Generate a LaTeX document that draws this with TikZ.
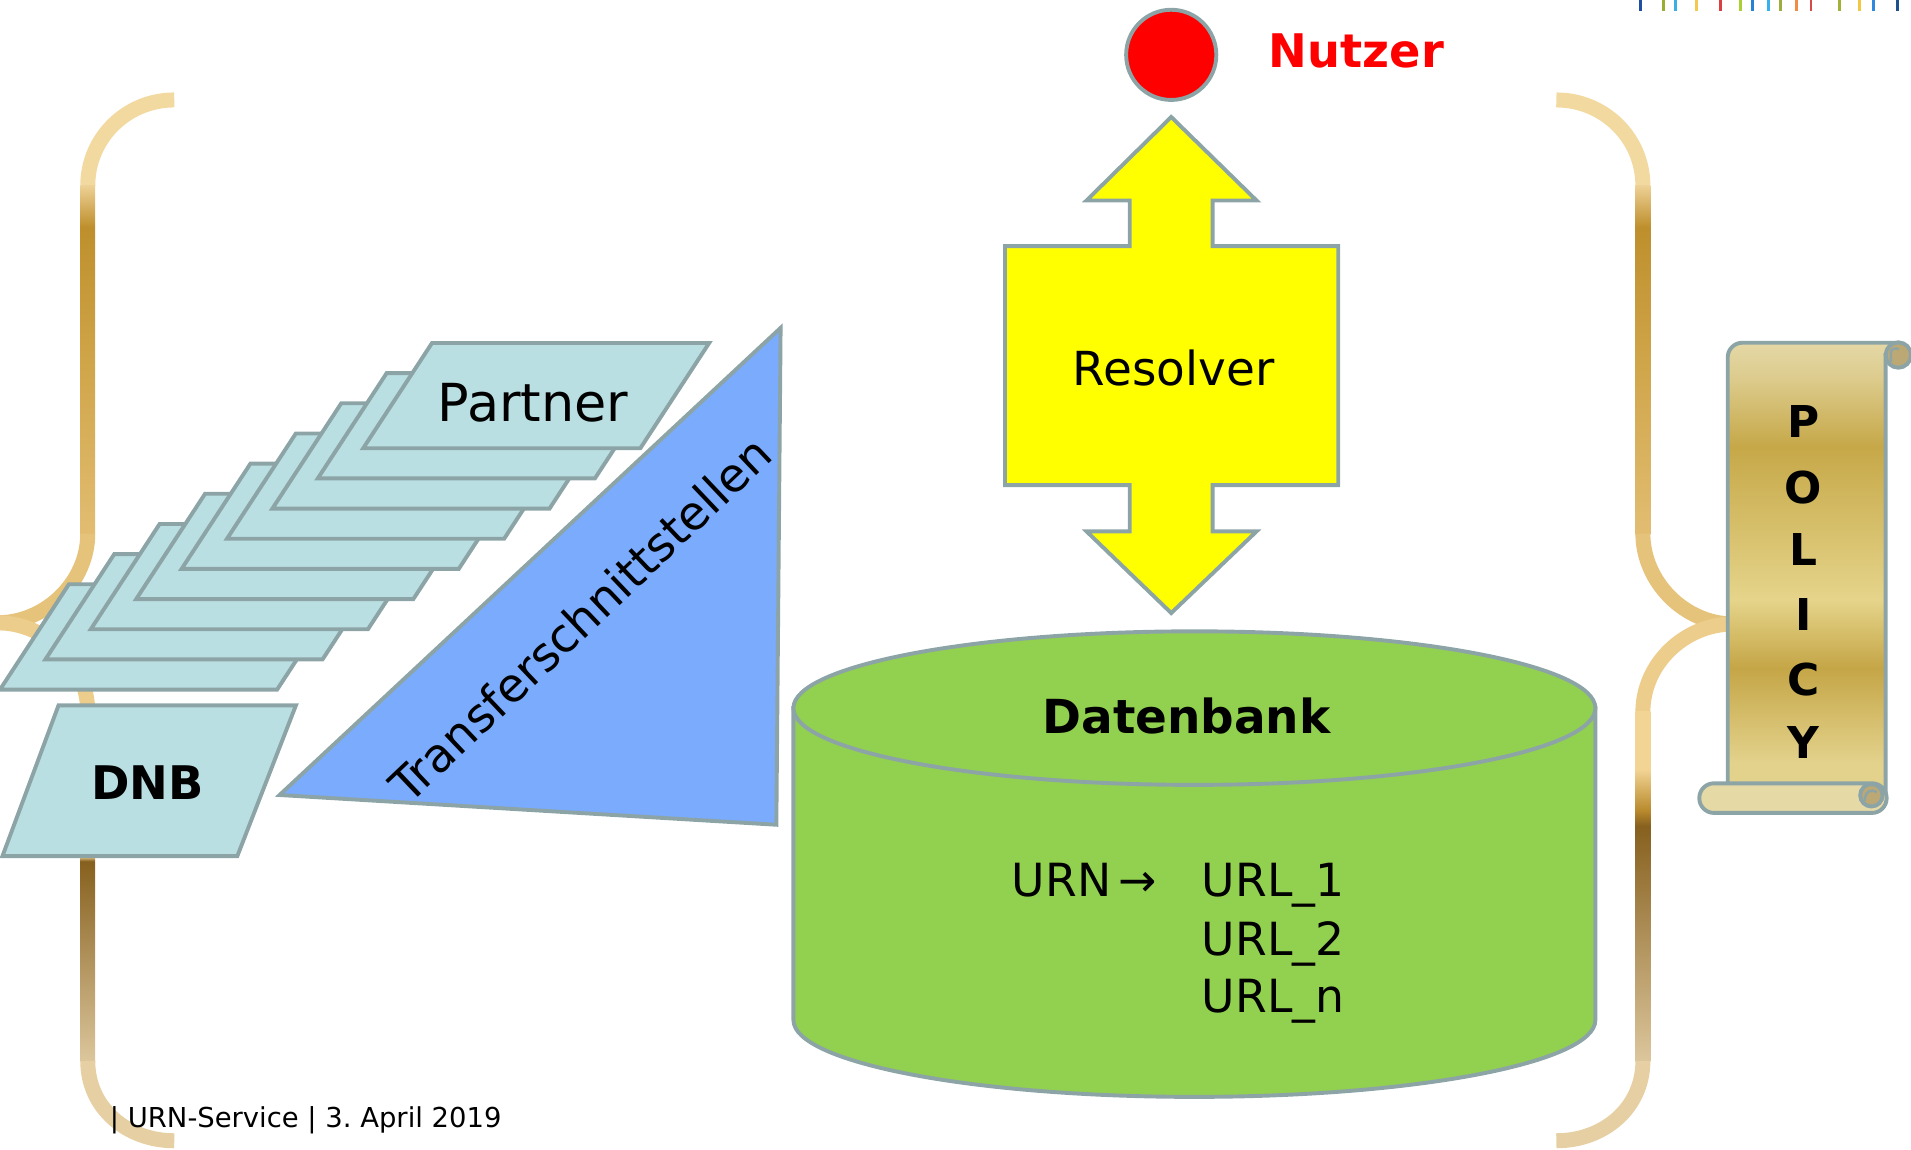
\documentclass[tikz,border=0pt]{standalone}
\usepackage{fontspec}
\setmainfont{DejaVu Sans}
\usetikzlibrary{calc}
\definecolor{edgec}{HTML}{8DA4A7}
\definecolor{cyanfill}{HTML}{B9DFE2}
\definecolor{trifill}{HTML}{7AABFD}
\definecolor{cylfill}{HTML}{92D050}
\definecolor{arrowfill}{HTML}{FFFF00}
\definecolor{nutzred}{HTML}{FF0000}
\definecolor{rollc}{HTML}{E5D9A6}
\definecolor{curlc}{HTML}{BBA874}
% scroll shading colours
\definecolor{sA}{HTML}{E2D28C}
\definecolor{sB}{HTML}{E3D28C}
\definecolor{sC}{HTML}{C5A647}
\definecolor{sD}{HTML}{E5D48A}
\definecolor{sE}{HTML}{C6A848}
\definecolor{sF}{HTML}{DCCB8C}
\definecolor{sG}{HTML}{E4D8A6}
% brace colours
\definecolor{bTopEnd}{HTML}{F2D9A0}
\definecolor{bMidA}{HTML}{E5C37B}
\definecolor{bMidB}{HTML}{EDCD8C}
\definecolor{bBotEnd}{HTML}{E6D0A3}
\definecolor{gLight}{HTML}{EDD196}
\definecolor{gDark}{HTML}{BE8F2C}
\definecolor{gMid}{HTML}{CFA549}
\definecolor{gLow}{HTML}{E2BD72}
\definecolor{gBrown}{HTML}{86601E}
\definecolor{gPale}{HTML}{F2D494}
\definecolor{gBottom}{HTML}{DCC69C}
\definecolor{gGoldB}{HTML}{B88A2C}
% tick colours
\definecolor{tA}{HTML}{1F4FA0}
\definecolor{tB}{HTML}{9BAE32}
\definecolor{tC}{HTML}{3BAEE6}
\definecolor{tD}{HTML}{F3C94E}
\definecolor{tE}{HTML}{D9403F}
\definecolor{tF}{HTML}{AACF35}
\definecolor{tG}{HTML}{2782D6}
\definecolor{tH}{HTML}{35B2EE}
\definecolor{tI}{HTML}{9DAE3C}
\definecolor{tJ}{HTML}{F08C45}
\definecolor{tK}{HTML}{D84A48}
\definecolor{tL}{HTML}{A2B236}
\definecolor{tM}{HTML}{F2C743}
\definecolor{tN}{HTML}{2E89DF}
\definecolor{tO}{HTML}{1E4F8E}

\pgfdeclareverticalshading{scrollshade}{100bp}{color(0bp)=(sA); color(25bp)=(sA); color(28.9bp)=(sB); color(39.3bp)=(sC); color(46.8bp)=(sD); color(63.6bp)=(sE); color(71bp)=(sF); color(75bp)=(sG); color(100bp)=(sG)}
\pgfdeclareverticalshading{braceUp}{100bp}{color(0bp)=(gLow); color(25bp)=(gLow); color(50bp)=(gMid); color(69bp)=(gDark); color(75bp)=(gLight); color(100bp)=(gLight)}
\pgfdeclareverticalshading{braceLowL}{100bp}{color(0bp)=(gBottom); color(25bp)=(gBottom); color(53.6bp)=(gBrown); color(54.3bp)=(gPale); color(75bp)=(gPale); color(100bp)=(gPale)}
\pgfdeclareverticalshading{braceLowR}{100bp}{color(0bp)=(gBottom); color(25bp)=(gBottom); color(58.6bp)=(gBrown); color(60.8bp)=(gGoldB); color(66.7bp)=(gPale); color(75bp)=(gPale); color(100bp)=(gPale)}

\begin{document}
\begin{tikzpicture}[x=1pt,y=-1pt,
  shapeedge/.style={draw=edgec, line width=3.2pt, line join=miter},
  partnerbox/.style={shapeedge, fill=cyanfill},
  bracecurve/.style={line width=12.3pt},
  tickmark/.style={line width=2.3pt},
  lbl/.style={inner sep=0pt, anchor=base, text=black},
  urltext/.style={lbl, anchor=base west, font=\fontsize{37.5}{37.5}\selectfont},
  policyletter/.style={lbl, font=\bfseries\fontsize{36}{36}\selectfont}]
\useasboundingbox (0,0) rectangle (1568,943);
\clip (0,0) rectangle (1568,943);

% ---------- left brace ----------
\draw[bracecurve, draw=bTopEnd] (143,82) .. controls (104,82) and (72,113) .. (72,152.5);
\shade[shading=braceUp] (65.85,152) rectangle (78.15,438.5);
\draw[bracecurve, draw=bMidA] (72,438) .. controls (72,477) and (38,511) .. (-2,511);
\draw[bracecurve, draw=bMidB] (-2,511) .. controls (38,511) and (72,545) .. (72,584);
\shade[shading=braceLowL] (65.85,583.5) rectangle (78.15,871);
\draw[bracecurve, draw=bBotEnd] (72,870.5) .. controls (72,909) and (104,936) .. (143,936);

% ---------- right brace ----------
\draw[bracecurve, draw=bTopEnd] (1277,82) .. controls (1316,82) and (1348,113) .. (1348,152.5);
\shade[shading=braceUp] (1341.85,152) rectangle (1354.15,438.5);
\draw[bracecurve, draw=bMidA] (1348,438) .. controls (1348,477) and (1382,512) .. (1422,512);
\draw[bracecurve, draw=bMidB] (1422,512) .. controls (1382,512) and (1348,545) .. (1348,584);
\shade[shading=braceLowR] (1341.85,583.5) rectangle (1354.15,871);
\draw[bracecurve, draw=bBotEnd] (1348,870.5) .. controls (1348,909) and (1316,936) .. (1277,936);

% ---------- partner stack ----------
\foreach \k in {8,7,...,0} {
  \path[partnerbox] ({298-37.25*\k},{367.8+24.75*\k}) -- ++(227.4,0) -- ++(56.5,-86.4) -- ++(-227.4,0) -- cycle;
}
\node[lbl, font=\fontsize{43}{43}\selectfont] (partner) at (437.5,345.6) {Partner};

% ---------- DNB ----------
\path[partnerbox] (48,578.8) -- (242.8,578.8) -- (194.7,702.5) -- (2,702.5) -- cycle;
\node[lbl, font=\bfseries\fontsize{38}{38}\selectfont] (dnb) at (121,656) {DNB};

% ---------- triangle ----------
\path[shapeedge, fill=trifill] (640.5,269) -- (637,676.7) -- (229.4,652.3) -- cycle;
\node[inner sep=0pt, rotate=43.5, font=\fontsize{38.5}{38.5}\selectfont] (transfer) at (476,508) {Transferschnittstellen};

% ---------- database cylinder ----------
\path[shapeedge, fill=cylfill] (651,581) -- (651,837) .. controls (651,871.8) and (798.3,900) .. (980,900) .. controls (1161.7,900) and (1309,871.8) .. (1309,837) -- (1309,581) -- cycle;
\path[shapeedge, fill=cylfill] (980,581) ellipse [x radius=329, y radius=63];
\node[lbl, font=\bfseries\fontsize{38.5}{38.5}\selectfont] (datenbank) at (973.5,601.5) {Datenbank};
\node[urltext] (urn) at (830,735.7) {URN\,→};
\node[urltext] (url1) at (986,735.7) {URL\_1};
\node[urltext] (url2) at (986,783.6) {URL\_2};
\node[urltext] (urln) at (986,830.5) {URL\_n};

% ---------- resolver double arrow ----------
\path[shapeedge, fill=arrowfill] (961,96) -- (1031,164.5) -- (995,164.5) -- (995,202) -- (1098,202) -- (1098,398) -- (995,398) -- (995,436) -- (1031,436) -- (961,503) -- (891.5,436) -- (927,436) -- (927,398) -- (824.6,398) -- (824.6,202) -- (927,202) -- (927,164.5) -- (891.5,164.5) -- cycle;
\node[lbl, font=\fontsize{38.5}{38.5}\selectfont] (resolver) at (963,316.6) {Resolver};

% ---------- user ----------
\node[circle, draw=edgec, line width=3.2pt, fill=nutzred, minimum size=74pt, inner sep=0pt] (user) at (961,45) {};
\node[lbl, anchor=base west, text=nutzred, font=\bfseries\fontsize{38}{38}\selectfont] (nutzer) at (1041,55.5) {Nutzer};

% ---------- policy scroll ----------
\shadedraw[shading=scrollshade, draw=edgec, line width=3.2pt] (1417.6,655) -- (1417.6,293.2) .. controls (1417.6,286.6) and (1423,281.2) .. (1429.6,281.2) -- (1557.6,281.2) -- (1557.6,291.3) -- (1547.2,291.3) -- (1547.2,655) -- cycle;
\path[shapeedge, fill=curlc] (1557.6,291.3) circle [radius=10.4];
\draw[edgec, line width=2pt] (1551.5,297) -- (1551.5,289) .. controls (1551.5,285.5) and (1556,285.5) .. (1558,286.5);
\path[shapeedge, fill=rollc, rounded corners=12pt] (1394.3,642.7) rectangle (1548,667);
\path[shapeedge, fill=curlc] (1535.5,652.5) circle [radius=9.2];
\draw[edgec, line width=2pt] (1530,657) .. controls (1530,649) and (1536,647) .. (1540,650);
\node[policyletter] (pP) at (1479.6,358.8) {P};
\node[policyletter] (pO) at (1479.6,413) {O};
\node[policyletter] (pL) at (1479.6,464.4) {L};
\node[policyletter] (pI) at (1479.6,517) {I};
\node[policyletter] (pC) at (1479.6,570.3) {C};
\node[policyletter] (pY) at (1479.6,622.2) {Y};

% ---------- footer ----------
\node[lbl, anchor=base west, font=\fontsize{22.5}{22.5}\selectfont] (footer) at (90,925) {| URN-Service | 3.~April 2019};

% ---------- top ticks ----------
\foreach \xx/\cc in {1346/tA,1365/tB,1375/tC,1392/tD,1412/tE,1428/tF,1438/tG,1451/tH,1461/tI,1474/tJ,1486/tK,1509/tL,1526/tM,1537/tN,1557/tO} {
  \draw[tickmark, draw=\cc] (\xx,0) -- (\xx,9);
}
\end{tikzpicture}
\end{document}
